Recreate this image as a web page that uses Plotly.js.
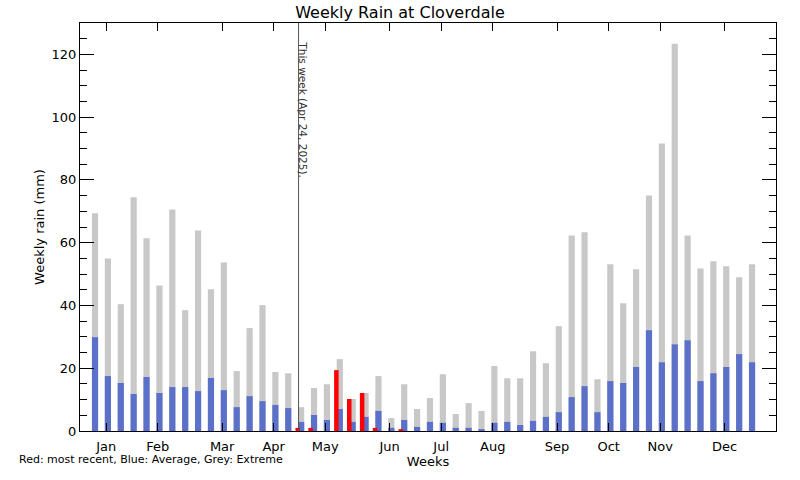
<!DOCTYPE html>
<html>
<head>
<meta charset="utf-8">
<script src="https://cdn.plot.ly/plotly-3.0.1.min.js"></script>
<style>
  html, body { margin: 0; padding: 0; background: #fff; }
  #chart { width: 800px; height: 480px; }
</style>
</head>
<body>
<div id="chart"></div>
<script>
// Weekly rain at Cloverdale, values in mm
const extremeRain = [
    69.4, 55.0, 40.4, 74.5, 61.4, 46.4, 70.6, 38.5, 63.9, 45.2, 53.7, 19.1, 32.8,
    40.1, 18.8, 18.4, 7.6, 13.7, 14.9, 22.9, 10.2, 12.1, 17.5, 4.1, 14.9, 7.0,
    10.5, 18.1, 5.4, 8.9, 6.4, 20.7, 16.8, 16.8, 25.4, 21.6, 33.4, 62.3, 63.3,
    16.5, 53.1, 40.7, 51.5, 75.0, 91.6, 123.4, 62.3, 51.8, 54.1, 52.5, 49.0, 53.1
];
const averageRain = [
    29.9, 17.5, 15.3, 11.8, 17.2, 12.1, 14.0, 14.0, 12.7, 16.9, 13.0, 7.6, 11.1,
    9.5, 8.3, 7.3, 2.9, 5.1, 3.5, 7.0, 2.9, 4.5, 6.4, 1.0, 3.5, 1.3,
    2.9, 2.6, 1.0, 1.0, 0.6, 2.6, 2.9, 1.9, 3.2, 4.5, 6.0, 10.8, 14.3,
    6.0, 15.9, 15.3, 20.4, 32.1, 21.9, 27.6, 28.9, 15.9, 18.4, 20.4, 24.5, 21.9
];
const recentWeeks = [17, 18, 20, 21, 22, 23, 25];
const recentRain = [1.0, 1.0, 19.4, 10.2, 12.1, 1.0, 0.6];

const monthNames = ['Jan', 'Feb', 'Mar', 'Apr', 'May', 'Jun', 'Jul', 'Aug', 'Sep', 'Oct', 'Nov', 'Dec'];
const monthStartWeeks = [1, 5, 10, 14, 18, 23, 27, 31, 36, 40, 44, 49];
const thisWeek = 16.8;

const weeks = extremeRain.map((_, i) => i + 1);
const barWidth = 0.48;
const font = 'DejaVu Sans, sans-serif';

const grey = {
    x: weeks, y: extremeRain, type: 'bar',
    width: barWidth, offset: -barWidth / 2,
    marker: { color: '#c8c8c8', line: { width: 0 } },
    hoverinfo: 'x+y', name: 'Extreme'
};
const blue = {
    x: weeks, y: averageRain, type: 'bar',
    width: barWidth, offset: -barWidth / 2,
    marker: { color: '#5b70c8', line: { width: 0 } },
    hoverinfo: 'x+y', name: 'Average'
};
const red = {
    x: recentWeeks, y: recentRain, type: 'bar',
    width: 0.35, offset: -barWidth / 2 - 0.2,
    marker: { color: '#ff0000', line: { width: 0 } },
    hoverinfo: 'x+y', name: 'Most recent'
};

const layout = {
    width: 800, height: 480,
    margin: { l: 80, r: 24, t: 23, b: 49 },
    paper_bgcolor: '#fff', plot_bgcolor: '#fff',
    barmode: 'overlay', showlegend: false,
    font: { family: font, size: 13, color: '#000' },
    title: {
        text: 'Weekly Rain at Cloverdale',
        font: { family: font, size: 16, color: '#000' },
        x: 0.5, xanchor: 'center', y: 0.975, yanchor: 'middle'
    },
    xaxis: {
        range: [-0.165, 53.86],
        tickvals: monthStartWeeks.map(w => w + 0.87),
        ticktext: monthNames,
        ticks: 'inside', ticklen: 8, tickcolor: '#000', tickwidth: 1,
        ticklabelstandoff: 3,
        showline: true, linecolor: '#000', linewidth: 1, mirror: 'allticks',
        showgrid: false, zeroline: false,
        tickfont: { family: font, size: 13 },
        title: { text: 'Weeks', font: { family: font, size: 13 }, standoff: 0 }
    },
    yaxis: {
        range: [0, 130],
        tickvals: [0, 20, 40, 60, 80, 100, 120],
        ticks: 'inside', ticklen: 14, tickcolor: '#000', tickwidth: 1,
        minor: { dtick: 5, tick0: 0, ticks: 'inside', ticklen: 7, tickcolor: '#000', showgrid: false },
        showline: true, linecolor: '#000', linewidth: 1, mirror: 'allticks',
        showgrid: false, zeroline: false,
        tickfont: { family: font, size: 13 },
        title: { text: 'Weekly rain (mm)', font: { family: font, size: 13 } }
    },
    shapes: [{
        type: 'line', xref: 'x', yref: 'paper',
        x0: thisWeek, x1: thisWeek, y0: 0, y1: 1,
        line: { color: '#555', width: 1 }
    }],
    annotations: [{
        text: 'This week (Apr 24, 2025).',
        xref: 'x', yref: 'paper', x: thisWeek, y: 0.787,
        xshift: 5, xanchor: 'center', yanchor: 'middle',
        textangle: 90, showarrow: false,
        font: { family: font, size: 10.5, color: '#333' }
    }, {
        text: 'Red: most recent, Blue: Average, Grey: Extreme',
        xref: 'paper', yref: 'paper', x: -0.0905, y: -0.071,
        xanchor: 'left', yanchor: 'middle', showarrow: false,
        font: { family: font, size: 11, color: '#000' }
    }]
};

Plotly.newPlot('chart', [grey, blue, red], layout, { staticPlot: true });
</script>
</body>
</html>
